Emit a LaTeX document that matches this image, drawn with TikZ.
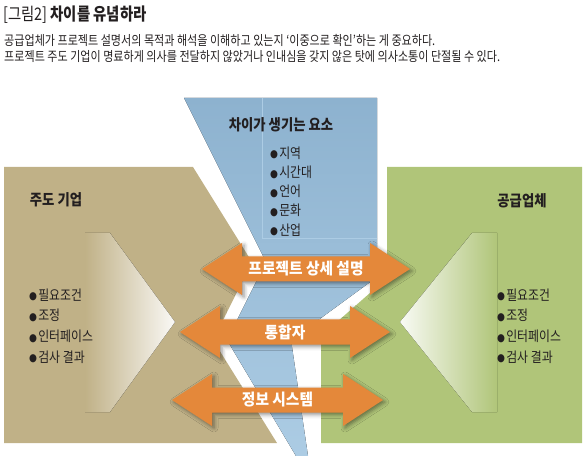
\documentclass[tikz,border=0pt]{standalone}
\usepackage{fontspec}
\setmainfont{Noto Sans CJK KR}
\newfontfamily\symfont{DejaVu Sans}
\usetikzlibrary{shadows.blur}
\definecolor{zoneblue}{RGB}{141,178,207}
\definecolor{zonebluelt}{RGB}{172,204,228}
\definecolor{firmbrown}{RGB}{192,177,135}
\definecolor{suppgreen}{RGB}{176,197,121}
\definecolor{arroworange}{RGB}{228,136,58}
\definecolor{ink}{RGB}{35,31,32}
\newcommand{\blt}{\raisebox{0.3pt}{\symfont\fontsize{8}{8}\selectfont ●}\hspace{1pt}}
\tikzset{
  headtext/.style={font=\fontsize{11.5}{12}\selectfont\bfseries, text=ink, xscale=0.87, inner sep=0pt},
  itemtext/.style={font=\fontsize{10.5}{12}\selectfont, text=ink, xscale=0.85, anchor=west, inner sep=0pt},
  introtext/.style={font=\fontsize{10}{10}\selectfont, text=ink, xscale=0.83, anchor=west, inner sep=0pt},
  arrowbody/.style={fill=arroworange, blur shadow={shadow xshift=1.5pt, shadow yshift=-1.5pt, shadow blur radius=3pt, shadow opacity=45}},
  arrowtext/.style={font=\fontsize{12}{12}\selectfont\bfseries, text=white, xscale=0.92, inner sep=0pt},
}
\begin{document}
\begin{tikzpicture}[x=0.75pt, y=-0.75pt]
  \useasboundingbox (0,0) rectangle (586,456);
  % title and lead text
  \node[anchor=west, font=\fontsize{13}{13}\selectfont, text=ink, xscale=0.83, inner sep=0pt] (title) at (3,15) {[그림2] \textbf{차이를 유념하라}};
  \node[introtext] (intro1) at (4,40) {공급업체가 프로젝트 설명서의 목적과 해석을 이해하고 있는지 ‘이중으로 확인’하는 게 중요하다.};
  \node[introtext] (intro2) at (4,57) {프로젝트 주도 기업이 명료하게 의사를 전달하지 않았거나 인내심을 갖지 않은 탓에 의사소통이 단절될 수 있다.};

  % the crack between the two sides
  \fill[top color=zoneblue, bottom color=zonebluelt] (184,98) -- (377,98) -- (377,277) -- (291,340) -- (308,456) -- (296,456) -- (227,340) -- (266,262) -- cycle;
  \draw[zonebluelt, line width=0.4pt] (262,98) -- (262,238) -- (377,238);

  \fill[firmbrown] (4,167) -- (193,167) -- (252,262) -- (213,340) -- (277,443) -- (4,443) -- cycle;
  \fill[suppgreen] (387,167) -- (582,167) -- (582,443) -- (321,443) -- (321,336) -- (387,278) -- cycle;
  \fill[left color=firmbrown, middle color=firmbrown!70!white, right color=firmbrown!8!white] (85,233) -- (110,233) -- (175,322) -- (110,412) -- (85,412) -- cycle;
  \fill[left color=suppgreen!8!white, middle color=suppgreen!70!white, right color=suppgreen] (497,233) -- (472,233) -- (400,322) -- (472,412) -- (497,412) -- cycle;

  \node[headtext] (zonehead) at (281,125) {차이가 생기는 요소};
  \node[headtext] (firmhead) at (56,200) {주도 기업};
  \node[headtext] (supphead) at (522,201) {공급업체};

  \foreach \t [count=\i] in {지역,시간대,언어,문화,산업}
    \node[itemtext] (zone\i) at (270,{153+19.2*(\i-1)}) {\blt\t};
  \foreach \t [count=\i] in {필요조건,조정,인터페이스,검사 결과} {
    \node[itemtext] (firm\i) at (29,{295+20.7*(\i-1)}) {\blt\t};
    \node[itemtext] (supp\i) at (497,{295+20.7*(\i-1)}) {\blt\t};
  }

  % double arrows
  \foreach \xl/\xr/\yc/\nm/\lbl in {202/410/269/spec/{프로젝트 상세 설명}, 180/390/332/integ/{통합자}, 172/383/400/info/{정보 시스템}} {
    \fill[arrowbody] (\xl,\yc) -- (\xl+40,\yc-26) -- (\xl+40,\yc-12.5) -- (\xr-40,\yc-12.5) -- (\xr-40,\yc-26) -- (\xr,\yc)
      -- (\xr-40,\yc+26) -- (\xr-40,\yc+12.5) -- (\xl+40,\yc+12.5) -- (\xl+40,\yc+26) -- cycle;
    \node[arrowtext] (\nm) at ({(\xl+\xr)/2},\yc) {\lbl};
  }
\end{tikzpicture}
\end{document}
